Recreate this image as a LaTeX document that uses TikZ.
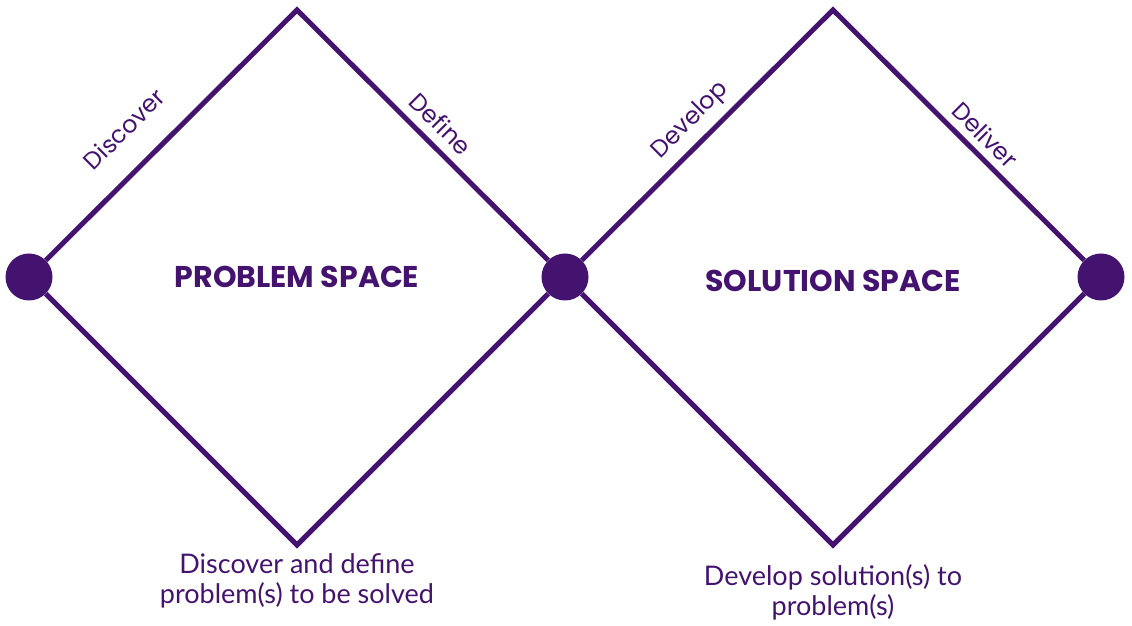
\documentclass[tikz,border=0pt]{standalone}
\usepackage{fontspec}
\setmainfont{Poppins}
\newfontfamily\notefont{Lato}
\usepackage{xcolor}
\definecolor{ddpurple}{HTML}{44136F}
\usetikzlibrary{calc}

\begin{document}
\begin{tikzpicture}[
        x=1pt, y=1pt,
        edge/.style    = {draw=ddpurple, line width=5pt, line join=miter},
        dot/.style     = {circle, fill=ddpurple, minimum size=47pt, inner sep=0pt},
        phase/.style   = {text=ddpurple, inner sep=0pt,
                          font=\fontsize{24}{28}\selectfont\addfontfeatures{Weight=300}},
        spacebox/.style= {text=ddpurple, inner sep=0pt,
                          font=\fontsize{30}{34}\selectfont\bfseries},
        note/.style    = {text=ddpurple, align=center, inner sep=0pt,
                          font=\notefont\fontsize{27}{30}\selectfont}
    ]
        \useasboundingbox (0,0) rectangle (1132,626);

        % ---- Dots ----
        \node[dot] (d1) at (29,349) {};
        \node[dot] (d2) at (565,349) {};
        \node[dot] (d3) at (1101,349) {};
        \coordinate (pt) at (297,616);
        \coordinate (pb) at (297,81);
        \coordinate (st) at (833,616);
        \coordinate (sb) at (833,81);

        % ---- Problem space ----
        \draw[edge] (d1) -- (pt) -- (d2);
        \draw[edge] (d2) -- (pb) -- (d1);
        \node[phase, rotate=45]  (disc) at ($(d1)!0.454!(pt)!38pt!90:(pt)$) {Discover};
        \node[phase, rotate=-45] (defi) at ($(pt)!0.482!(d2)!21pt!90:(d2)$) {Define};
        \node[spacebox] (ps) at (297,349) {PROBLEM SPACE};
        \node[note] (psnote) at (297,45) {Discover and define\\problem(s) to be solved};

        % ---- Solution space ----
        \draw[edge] (d2) -- (st) -- (d3);
        \draw[edge] (d3) -- (sb) -- (d2);
        \node[phase, rotate=45]  (deve) at ($(d2)!0.527!(st)!22pt!90:(st)$) {Develop};
        \node[phase, rotate=-45] (deli) at ($(st)!0.518!(d3)!19pt!90:(d3)$) {Deliver};
        \node[spacebox] (ss) at (833,345) {SOLUTION SPACE};
        \node[note] (ssnote) at (833,34) {Develop solution(s) to\\problem(s)};
    \end{tikzpicture}
\end{document}
